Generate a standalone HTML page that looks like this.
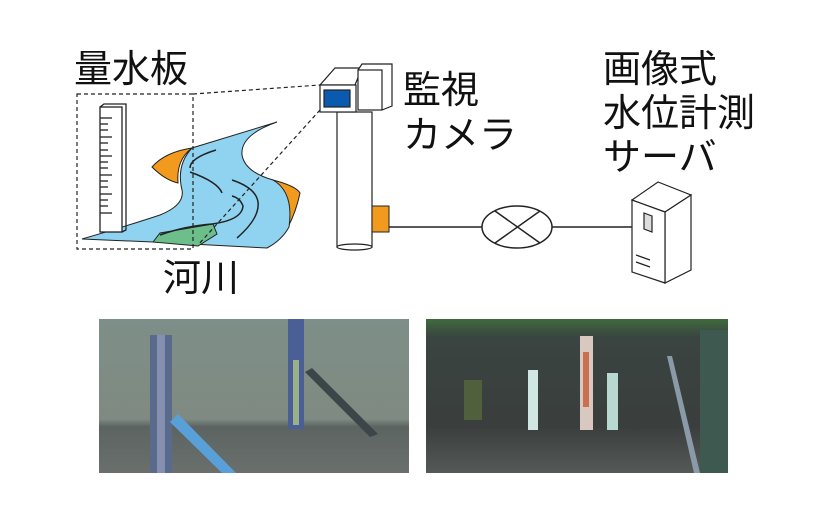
<!DOCTYPE html>
<html><head><meta charset="utf-8"><style>
html,body{margin:0;padding:0;background:#fff;width:839px;height:517px;overflow:hidden}
text{font-family:"Liberation Sans","Noto Sans CJK JP",sans-serif;fill:#111}
</style></head><body>
<svg width="839" height="517" viewBox="0 0 839 517" xmlns="http://www.w3.org/2000/svg">
<defs>
<linearGradient id="g1" x1="0" y1="0" x2="0" y2="1"><stop offset="0" stop-color="#7d8f88"/><stop offset="0.65" stop-color="#7f8a82"/><stop offset="0.7" stop-color="#5c6462"/><stop offset="1" stop-color="#6a6f6c"/></linearGradient>
<linearGradient id="g2" x1="0" y1="0" x2="0" y2="1"><stop offset="0" stop-color="#3f6a3c"/><stop offset="0.12" stop-color="#3a4440"/><stop offset="0.7" stop-color="#3a3e3d"/><stop offset="1" stop-color="#555958"/></linearGradient>
</defs>
<text x="74" y="82" font-size="38">量水板</text>
<text x="403" y="103" font-size="38">監視</text>
<text x="403" y="148" font-size="38">カメラ</text>
<text x="603" y="82" font-size="38">画像式</text>
<text x="603" y="126" font-size="38">水位計測</text>
<text x="603" y="170" font-size="38">サーバ</text>
<text x="163" y="291" font-size="38">河川</text>
<!-- river -->
<path d="M152,167 Q165,152 192,148 Q176,160 178,183 Q165,180 152,167Z" fill="#f29a1e" stroke="#222" stroke-width="1"/>
<path d="M273,180 Q296,186 300,193 Q296,212 288,227 Q288,195 273,180Z" fill="#f29a1e" stroke="#222" stroke-width="1"/>
<path d="M82,239 Q130,225 160,215 Q185,205 182,190 Q176,165 192,148 Q235,135 277,122 Q240,135 242,155 Q245,172 273,180 Q294,192 289,227 Q282,240 267,248 L153,242 Z" fill="#8fd3f0" stroke="#222" stroke-width="1"/>
<path d="M153,242 L160,233 L213,224 L217,234 L198,246Z" fill="#6cbf8a" stroke="#222" stroke-width="1"/>
<path d="M160,235 Q185,226 212,224 Q242,220 243,206 Q240,198 232,196" fill="none" stroke="#222" stroke-width="1.5"/>
<path d="M190,168 Q190,158 216,150" fill="none" stroke="#222" stroke-width="1.5"/>
<path d="M190,172 Q218,182 222,193" fill="none" stroke="#222" stroke-width="1.5"/>
<path d="M232,180 Q256,188 258,202 Q260,218 237,238" fill="none" stroke="#222" stroke-width="1.5"/>
<!-- ruler -->
<rect x="100" y="107" width="22" height="125" fill="#fff" stroke="#222" stroke-width="1.3"/>
<path d="M100,107 L104,104 L126,104 L126,230 L122,232" fill="none" stroke="#222" stroke-width="1.3"/>
<g stroke="#222" stroke-width="1.3">
<line x1="100" y1="118" x2="112" y2="118"/><line x1="100" y1="124" x2="108" y2="124"/><line x1="100" y1="130" x2="108" y2="130"/><line x1="100" y1="137" x2="112" y2="137"/><line x1="100" y1="143" x2="108" y2="143"/><line x1="100" y1="150" x2="108" y2="150"/><line x1="100" y1="156" x2="112" y2="156"/><line x1="100" y1="162" x2="108" y2="162"/><line x1="100" y1="168" x2="108" y2="168"/><line x1="100" y1="175" x2="112" y2="175"/><line x1="100" y1="181" x2="108" y2="181"/><line x1="100" y1="187" x2="108" y2="187"/><line x1="100" y1="194" x2="112" y2="194"/><line x1="100" y1="200" x2="108" y2="200"/><line x1="100" y1="206" x2="108" y2="206"/><line x1="100" y1="213" x2="112" y2="213"/>
</g>
<g stroke="#222" stroke-width="1.2" stroke-dasharray="4,3" fill="none">
<rect x="77" y="94" width="116" height="155"/>
<line x1="193" y1="94" x2="320" y2="85"/>
<line x1="320" y1="110" x2="198" y2="245"/>
</g>
<rect x="337" y="112" width="35" height="135" fill="#fff" stroke="#222" stroke-width="1.2"/>
<ellipse cx="354.5" cy="247" rx="17.5" ry="3" fill="#fff" stroke="#222" stroke-width="1.2"/>
<path d="M320,85 L335,68 L362,68 L355,85Z" fill="#fff" stroke="#222" stroke-width="1.2"/>
<rect x="320" y="85" width="36" height="27" fill="#fff" stroke="#222" stroke-width="1.2"/>
<rect x="324" y="90" width="26" height="17" fill="#0a5bb0" stroke="#222" stroke-width="1.2"/>
<path d="M358,70 L362,64 L392,64 L392,106 L382,110" fill="#fff" stroke="#222" stroke-width="1.2"/>
<rect x="358" y="70" width="24" height="40" fill="#fff" stroke="#222" stroke-width="1.2"/>
<rect x="372" y="206" width="17" height="26" fill="#f29a1e" stroke="#222" stroke-width="1"/>
<line x1="389" y1="227" x2="482" y2="227" stroke="#222" stroke-width="1.5"/>
<ellipse cx="517" cy="227" rx="35" ry="21" fill="#fff" stroke="#222" stroke-width="1.5"/>
<line x1="495" y1="211" x2="540" y2="243" stroke="#222" stroke-width="1.5"/>
<line x1="540" y1="211" x2="495" y2="243" stroke="#222" stroke-width="1.5"/>
<line x1="552" y1="227" x2="632" y2="227" stroke="#222" stroke-width="1.5"/>
<path d="M632,200 L658,182 L691,195 L665,212Z" fill="#fff" stroke="#222" stroke-width="1.2"/>
<path d="M665,212 L691,195 L691,270 L665,283Z" fill="#fff" stroke="#222" stroke-width="1.2"/>
<path d="M632,200 L665,212 L665,283 L632,272Z" fill="#fff" stroke="#222" stroke-width="1.2"/>
<path d="M644,213 L652,216 L652,232 L644,229Z" fill="#ddd" stroke="#222" stroke-width="1.2"/>
<line x1="636" y1="255" x2="650" y2="260" stroke="#222" stroke-width="1.2"/>
<line x1="636" y1="262" x2="650" y2="267" stroke="#222" stroke-width="1.2"/>
<rect x="99" y="319" width="310" height="154" fill="url(#g1)"/>
<rect x="150" y="335" width="22" height="138" fill="#5a6a8c"/>
<rect x="157" y="335" width="8" height="138" fill="#8590b0"/>
<rect x="288" y="319" width="16" height="110" fill="#4a5f96"/>
<rect x="293" y="360" width="6" height="65" fill="#9ab08a"/>
<polygon points="305,372 312,368 378,434 370,437" fill="#3c4648"/>
<polygon points="170,422 178,414 236,473 222,473" fill="#5aa0d8"/>
<rect x="426" y="319" width="302" height="154" fill="url(#g2)"/>
<rect x="528" y="370" width="10" height="60" fill="#cfe6e2"/>
<rect x="580" y="336" width="13" height="94" fill="#d9c8c0"/>
<rect x="583" y="352" width="6" height="55" fill="#c87050"/>
<rect x="607" y="373" width="11" height="57" fill="#b8d8d0"/>
<rect x="464" y="380" width="18" height="40" fill="#50603c"/>
<polygon points="667,356 672,356 700,473 694,473" fill="#8a9aa8"/>
<rect x="700" y="330" width="28" height="143" fill="#3e5a50"/>
</svg>
</body></html>
